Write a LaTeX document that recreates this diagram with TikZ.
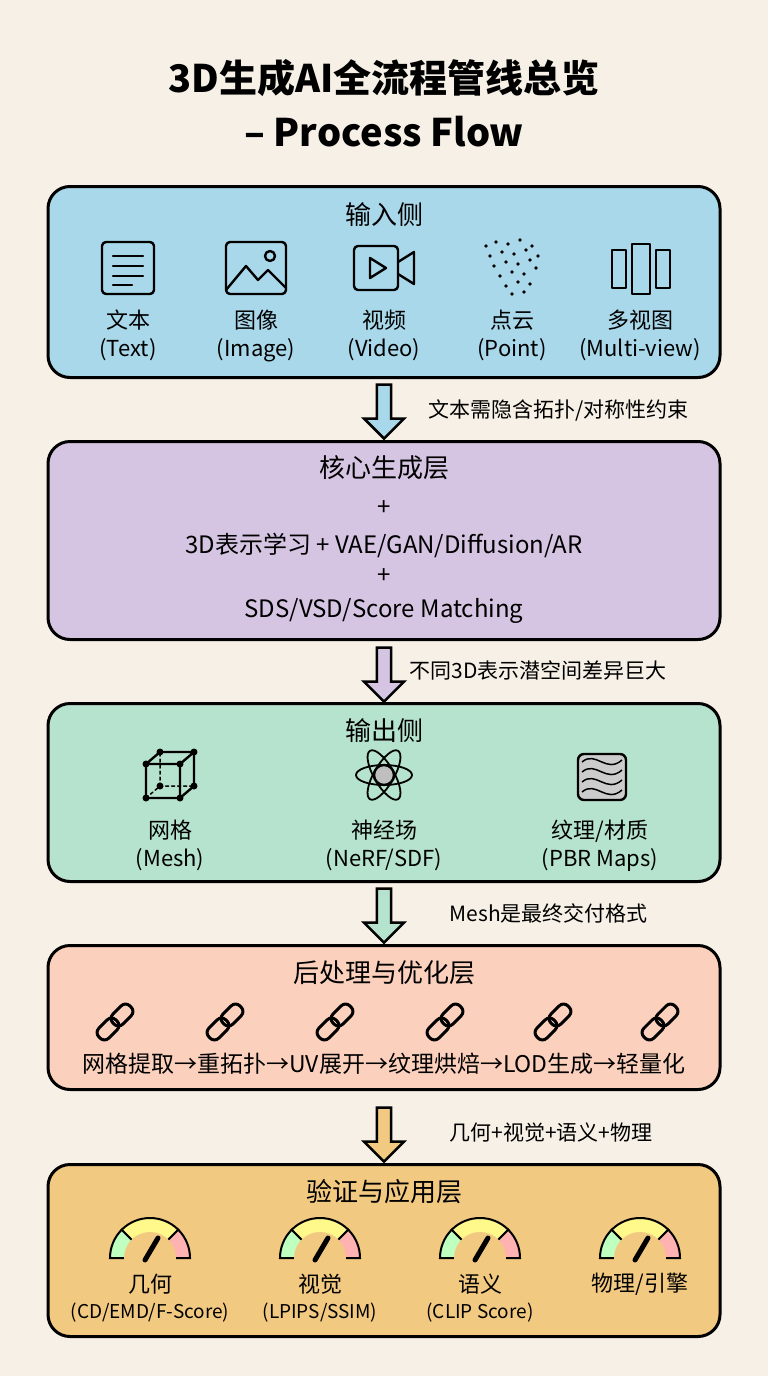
\documentclass[tikz,border=0pt]{standalone}
\usepackage{fontspec}
\setmainfont{Noto Sans CJK SC}
\usetikzlibrary{shapes.arrows,positioning}
\definecolor{bgc}{HTML}{F6F0E6}
\definecolor{inc}{HTML}{A9D8EA}
\definecolor{corec}{HTML}{D6C5E2}
\definecolor{outc}{HTML}{B6E3CD}
\definecolor{postc}{HTML}{FBD0BC}
\definecolor{evalc}{HTML}{F2C980}
\newcommand{\fs}[1]{\fontsize{#1}{#1}\selectfont}
\begin{document}
\begin{tikzpicture}[x=1pt,y=-1pt,
  layer/.style={draw=black, line width=3pt, rounded corners=22pt, minimum width=672pt, anchor=north},
  head/.style={font=\fs{26}},
  lbl/.style={font=\fs{22}, align=center, text depth=0pt},
  note/.style={font=\fs{21}, anchor=west},
  flow/.style={single arrow, draw=black, line width=2.5pt, shape border rotate=270,
    minimum height=54pt, minimum width=40pt, single arrow head extend=6pt, single arrow tip angle=90, inner sep=2pt},
  ico/.style={line width=2.4pt, line cap=round, line join=round}]
\fill[bgc] (0,0) rectangle (768,1376);
\useasboundingbox (0,0) rectangle (768,1376);

% title
\node[font=\fs{38}\bfseries] (t1) at (384,78) {3D生成AI全流程管线总览};
\node[font=\fs{38}\bfseries] (t2) at (384,132) {– Process Flow};

% layers
\node[layer, fill=inc, minimum height=191pt] (inp) at (384,185) {};
\node[layer, fill=corec, minimum height=198pt] (core) at (384,440) {};
\node[layer, fill=outc, minimum height=178pt] (out) at (384,702) {};
\node[layer, fill=postc, minimum height=144pt] (post) at (384,944) {};
\node[layer, fill=evalc, minimum height=172pt] (eval) at (384,1163) {};

% arrows
\node[flow, fill=inc] (a1) at (384,408) {};
\node[flow, fill=corec] (a2) at (384,671) {};
\node[flow, fill=outc] (a3) at (384,912) {};
\node[flow, fill=evalc] (a4) at (384,1131) {};
\node[note] at (425,410) {文本需隐含拓扑/对称性约束};
\node[note] at (406,670) {不同3D表示潜空间差异巨大};
\node[note] at (446,913) {Mesh是最终交付格式};
\node[note] at (446,1133) {几何+视觉+语义+物理};

% input
\node[head] at (384,215) {输入侧};
\foreach \x/\a/\b in {128/文本/(Text),256/图像/(Image),384/视频/(Video),512/点云/(Point),640/多视图/(Multi-view)}
  \node[lbl] at (\x,333) {\a\\[6pt]\b};
\draw[ico, rounded corners=4pt] (102,242) rectangle (154,294);
\foreach \y in {256,266,276} \draw[ico] (113,\y) -- (143,\y);
\draw[ico] (113,285) -- (132,285);
\draw[ico, rounded corners=4pt] (226,242) rectangle (286,294);
\draw[ico] (226,290) -- (246,266) -- (258,280) -- (268,270) -- (286,288);
\draw[ico] (270,256) circle (5);
\draw[ico, rounded corners=4pt] (354,246) rectangle (398,290);
\draw[ico] (370,258) -- (370,278) -- (386,268) -- cycle;
\draw[ico] (398,262) -- (414,252) -- (414,284) -- (398,274);
\foreach \px/\py in {486/246,496/242,508/244,520/240,532/246,490/256,502/252,514/254,526/250,538/256,
  494/266,506/262,518/264,530/260,500/276,512/272,524/274,536/268,506/286,518/282,530/284,512/294,524/292}
  \fill (\px,\py) circle (1.8);
\draw[ico] (612,250) rectangle (626,288);
\draw[ico] (632,244) rectangle (650,294);
\draw[ico] (656,250) rectangle (670,288);

% core
\node[head] at (384,468) {核心生成层};
\node[lbl, font=\fs{24}] at (384,508) {+};
\node[lbl, font=\fs{24}] at (384,543) {3D表示学习 + VAE/GAN/Diffusion/AR};
\node[lbl, font=\fs{24}] at (384,576) {+};
\node[lbl, font=\fs{24}] at (384,608) {SDS/VSD/Score Matching};

% output
\node[head] at (384,731) {输出侧};
\foreach \x/\a/\b in {170/{网格}/{(Mesh)},384/{神经场}/{(NeRF/SDF)},600/{纹理/材质}/{(PBR Maps)}}
  \node[lbl] at (\x,843) {\a\\[6pt]\b};
\draw[ico] (146,764) rectangle (180,798) (146,764) -- (160,752) -- (194,752) -- (180,764)
  (194,752) -- (194,786) -- (180,798);
\draw[ico, dashed, line width=1.5pt] (146,798) -- (160,786) -- (194,786) (160,786) -- (160,752);
\foreach \px/\py in {146/764,180/764,146/798,180/798,160/752,194/752,194/786,160/786} \fill (\px,\py) circle (3.5);
\foreach \r in {0,60,120} \draw[ico, line width=1.8pt, rotate around={\r:(384,775)}] (384,775) ellipse (28 and 10);
\draw[ico, fill=gray!50] (384,775) circle (10);
\draw[ico, fill=gray!40, rounded corners=6pt] (578,754) rectangle (626,800);
\foreach \o in {0,10,20,30} \draw[line width=1.5pt] (582,762+\o) .. controls (596,750+\o) and (606,774+\o) .. (622,760+\o);

% post
\node[head] at (384,973) {后处理与优化层};
\foreach \x in {115,225,335,445,553,660} {
  \draw[ico, line width=3pt, rounded corners=6pt, rotate around={45:(\x-7,1029)}] (\x-19,1022) rectangle (\x+5,1036);
  \draw[ico, line width=3pt, rounded corners=6pt, rotate around={45:(\x+7,1015)}] (\x-5,1008) rectangle (\x+19,1022);
}
\node[lbl, font=\fs{23}] at (384,1063) {网格提取→重拓扑→UV展开→纹理烘焙→LOD生成→轻量化};

% eval
\node[head] at (384,1192) {验证与应用层};
\foreach \x in {150,320,480,640} {
  \draw[line width=2pt, fill=green!25] (\x,1258) -- ++(180:40) arc (180:225:40) -- cycle;
  \draw[line width=2pt, fill=yellow!45] (\x,1258) -- ++(225:40) arc (225:315:40) -- cycle;
  \draw[line width=2pt, fill=red!30] (\x,1258) -- ++(315:40) arc (315:360:40) -- cycle;
  \fill[evalc] (\x,1258) circle (26);
  \draw[line width=5pt, line cap=round] (\x-5,1260) -- (\x+8,1238);
}
\node[lbl] at (150,1296) {几何\\[4pt]{\fs{19}(CD/EMD/F-Score)}};
\node[lbl] at (320,1296) {视觉\\[4pt]{\fs{19}(LPIPS/SSIM)}};
\node[lbl] at (480,1296) {语义\\[4pt]{\fs{19}(CLIP Score)}};
\node[lbl] at (640,1282) {物理/引擎};
\end{tikzpicture}
\end{document}
